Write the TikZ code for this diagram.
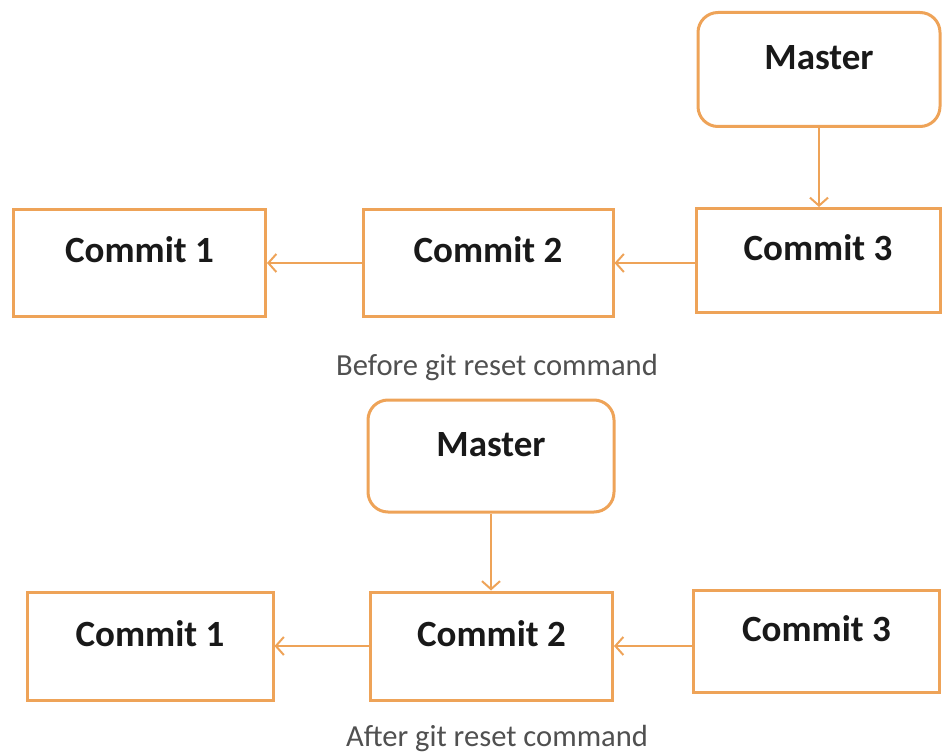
\documentclass[tikz,border=0pt]{standalone}
\usepackage{fontspec}
\setmainfont{Carlito}
\usetikzlibrary{arrows.meta}
\definecolor{gitorange}{RGB}{238,163,88}
\definecolor{captiongray}{RGB}{80,80,80}
\begin{document}
\begin{tikzpicture}[x=0.5pt, y=-0.5pt,
  commit/.style={draw=gitorange, line width=1.5pt, fill=white, text=black!90,
    font=\fontsize{18.5}{22}\selectfont\bfseries, text height=10pt, text depth=10pt},
  branch/.style={commit, rounded corners=10pt},
  caption/.style={text=captiongray, font=\fontsize{15.3}{18}\selectfont},
  link/.style={draw=gitorange, line width=1pt, -{Straight Barb[length=4pt,width=9pt]}}]
\useasboundingbox (0,0) rectangle (942,754);

% before reset
\node[branch, minimum width=121pt, minimum height=57pt] (mtop) at (819, 69.5) {Master};
\node[commit, minimum width=126pt, minimum height=53pt] (c1top) at (139.5, 263) {Commit 1};
\node[commit, minimum width=125pt, minimum height=53pt] (c2top) at (488, 263) {Commit 2};
\node[commit, minimum width=122pt, minimum height=52pt] (c3top) at (818, 260.5) {Commit 3};
\draw [link] (mtop.south) -- (c3top.north -| mtop.south);
\draw [link] (c2top.east -| c3top.west) -- (c2top.east);
\draw [link] (c2top.west) -- (c1top.east);
\node[caption] (before) at (497, 368) {Before git reset command};

% after reset
\node[branch, minimum width=123pt, minimum height=56pt] (mbot) at (491, 456) {Master};
\node[commit, minimum width=123pt, minimum height=54pt] (c1bot) at (150, 646) {Commit 1};
\node[commit, minimum width=121pt, minimum height=54pt] (c2bot) at (491.5, 646) {Commit 2};
\node[commit, minimum width=123pt, minimum height=51pt] (c3bot) at (816.5, 641.5) {Commit 3};
\draw [link] (mbot.south) -- (c2bot.north -| mbot.south);
\draw [link] (c2bot.east -| c3bot.west) -- (c2bot.east);
\draw [link] (c2bot.west) -- (c1bot.east);
\node[caption] (after) at (497, 739) {After git reset command};

\end{tikzpicture}
\end{document}
